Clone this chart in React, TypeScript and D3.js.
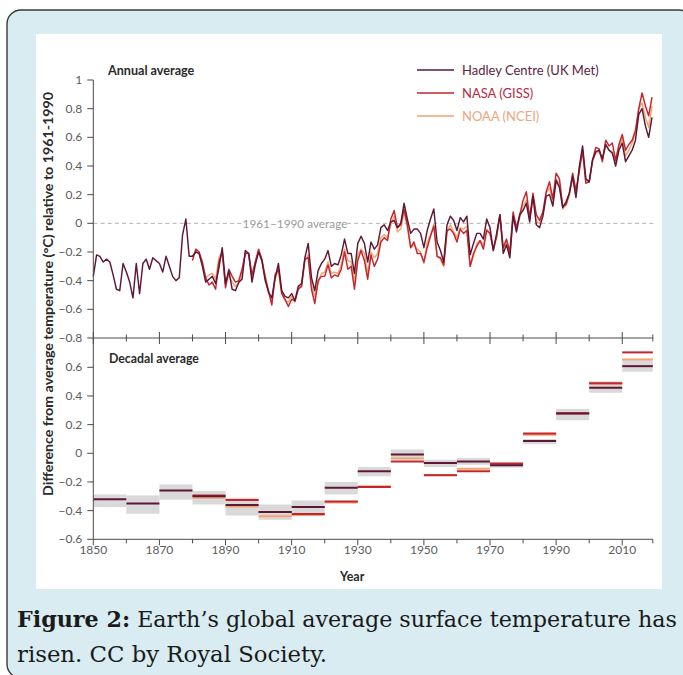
import React from "react";
import * as d3 from "d3";

// Annual global mean surface temperature anomalies (°C, relative to 1961–1990)
const hadleyStart = 1850;
const hadleyAnnual = [
  -0.37, -0.22, -0.23, -0.27, -0.25, -0.27, -0.36, -0.46, -0.47, -0.28,
  -0.34, -0.41, -0.52, -0.28, -0.49, -0.28, -0.25, -0.32, -0.24, -0.26,
  -0.28, -0.34, -0.23, -0.30, -0.37, -0.40, -0.38, -0.08, 0.03, -0.23,
  -0.23, -0.20, -0.21, -0.30, -0.41, -0.39, -0.37, -0.42, -0.31, -0.17,
  -0.42, -0.33, -0.46, -0.47, -0.41, -0.39, -0.19, -0.21, -0.41, -0.29,
  -0.20, -0.26, -0.40, -0.48, -0.52, -0.38, -0.28, -0.47, -0.51, -0.52,
  -0.49, -0.54, -0.44, -0.42, -0.24, -0.14, -0.38, -0.47, -0.33, -0.28,
  -0.25, -0.19, -0.30, -0.28, -0.29, -0.22, -0.11, -0.21, -0.21, -0.35,
  -0.14, -0.09, -0.14, -0.27, -0.13, -0.18, -0.15, -0.03, -0.01, -0.05,
  0.01, 0.02, -0.03, 0.0, 0.14, 0.03, -0.07, -0.04, -0.04, -0.07,
  -0.17, -0.05, 0.03, 0.1, -0.13, -0.19, -0.27, -0.01, 0.05, 0.02,
  -0.05, 0.04, 0.01, 0.05, -0.22, -0.14, -0.07, -0.07, -0.11, 0.03,
  -0.03, -0.19, -0.07, 0.06, -0.21, -0.15, -0.24, 0.05, -0.06, 0.06,
  0.09, 0.14, 0.01, 0.19, -0.01, -0.03, 0.05, 0.19, 0.2, 0.12,
  0.3, 0.25, 0.11, 0.15, 0.21, 0.33, 0.18, 0.39, 0.54, 0.31,
  0.29, 0.44, 0.5, 0.51, 0.45, 0.55, 0.51, 0.49, 0.4, 0.51,
  0.56, 0.43, 0.47, 0.51, 0.58, 0.76, 0.8, 0.68, 0.6, 0.74,
];

const nasaStart = 1880;
const nasaAnnual = [
  -0.26, -0.18, -0.2, -0.27, -0.38, -0.43, -0.41, -0.46, -0.27, -0.2,
  -0.45, -0.32, -0.37, -0.41, -0.4, -0.32, -0.21, -0.21, -0.36, -0.27,
  -0.18, -0.25, -0.38, -0.47, -0.57, -0.36, -0.32, -0.49, -0.53, -0.58,
  -0.53, -0.54, -0.46, -0.44, -0.25, -0.24, -0.46, -0.56, -0.4, -0.37,
  -0.37, -0.29, -0.38, -0.36, -0.37, -0.32, -0.2, -0.32, -0.3, -0.46,
  -0.26, -0.19, -0.26, -0.39, -0.22, -0.3, -0.25, -0.13, -0.1, -0.12,
  0.03, 0.09, -0.03, -0.01, 0.1, -0.01, -0.17, -0.13, -0.21, -0.21,
  -0.27, -0.17, -0.09, -0.02, -0.23, -0.24, -0.29, -0.05, -0.04, -0.07,
  -0.13, -0.04, -0.07, -0.05, -0.3, -0.21, -0.16, -0.12, -0.18, -0.05,
  -0.07, -0.18, -0.09, 0.06, -0.17, -0.11, -0.2, 0.08, -0.03, 0.06,
  0.16, 0.22, 0.04, 0.21, 0.06, 0.02, 0.08, 0.22, 0.29, 0.17,
  0.35, 0.31, 0.12, 0.13, 0.21, 0.35, 0.23, 0.36, 0.51, 0.28,
  0.29, 0.44, 0.53, 0.52, 0.43, 0.58, 0.54, 0.56, 0.44, 0.55,
  0.62, 0.51, 0.55, 0.58, 0.65, 0.8, 0.91, 0.82, 0.75, 0.88,
];

const noaaStart = 1880;
const noaaAnnual = [
  -0.23, -0.2, -0.21, -0.29, -0.38, -0.36, -0.35, -0.39, -0.24, -0.2,
  -0.43, -0.36, -0.41, -0.44, -0.42, -0.35, -0.2, -0.21, -0.38, -0.27,
  -0.19, -0.27, -0.36, -0.48, -0.56, -0.39, -0.32, -0.49, -0.54, -0.55,
  -0.51, -0.55, -0.45, -0.44, -0.26, -0.22, -0.43, -0.51, -0.42, -0.35,
  -0.34, -0.27, -0.35, -0.34, -0.35, -0.29, -0.18, -0.26, -0.27, -0.41,
  -0.22, -0.18, -0.21, -0.35, -0.2, -0.24, -0.21, -0.1, -0.08, -0.1,
  -0.01, 0.05, -0.06, -0.04, 0.08, -0.03, -0.17, -0.15, -0.18, -0.2,
  -0.28, -0.13, -0.08, -0.01, -0.23, -0.25, -0.3, -0.06, -0.01, -0.06,
  -0.1, -0.03, -0.04, -0.02, -0.3, -0.23, -0.14, -0.12, -0.15, -0.04,
  -0.07, -0.19, -0.1, 0.05, -0.18, -0.13, -0.22, 0.06, -0.05, 0.04,
  0.12, 0.16, 0.02, 0.19, 0.01, 0.0, 0.07, 0.21, 0.25, 0.14,
  0.31, 0.27, 0.1, 0.13, 0.19, 0.32, 0.19, 0.39, 0.51, 0.28,
  0.29, 0.43, 0.49, 0.5, 0.45, 0.55, 0.51, 0.5, 0.43, 0.53,
  0.59, 0.47, 0.51, 0.56, 0.63, 0.8, 0.84, 0.74, 0.67, 0.82,
];

// Decadal means (°C) and the Hadley uncertainty range for each decade
const decades = [1850, 1860, 1870, 1880, 1890, 1900, 1910, 1920, 1930, 1940, 1950, 1960, 1970, 1980, 1990, 2000, 2010];
const hadleyDecadal = [-0.32, -0.35, -0.26, -0.3, -0.36, -0.41, -0.375, -0.24, -0.126, -0.008, -0.068, -0.058, -0.084, 0.085, 0.277, 0.457, 0.608];
const hadleyLow = [-0.375, -0.422, -0.324, -0.357, -0.434, -0.464, -0.438, -0.287, -0.161, -0.033, -0.096, -0.08, -0.1, 0.063, 0.231, 0.422, 0.569];
const hadleyHigh = [-0.287, -0.294, -0.217, -0.263, -0.31, -0.357, -0.329, -0.2, -0.096, 0.027, -0.045, -0.032, -0.065, 0.1, 0.31, 0.503, 0.655];
const nasaDecades = [1880, 1890, 1900, 1910, 1920, 1930, 1940, 1950, 1960, 1970, 1980, 1990, 2000, 2010];
const nasaDecadal = [-0.295, -0.326, -0.41, -0.424, -0.336, -0.235, -0.058, -0.154, -0.125, -0.072, 0.138, 0.28, 0.488, 0.704];
const noaaDecadal = [-0.31, -0.371, -0.44, -0.43, -0.343, -0.23, -0.037, -0.152, -0.107, -0.08, 0.13, 0.279, 0.486, 0.655];

const topTicks = [1, 0.8, 0.6, 0.4, 0.2, 0, -0.2, -0.4, -0.6, -0.8];
const bottomTicks = [0.6, 0.4, 0.2, 0, -0.2, -0.4, -0.6];
const yearLabels = [1850, 1870, 1890, 1910, 1930, 1950, 1970, 1990, 2010];
const yearMinor = [1860, 1880, 1900, 1920, 1940, 1960, 1980, 2000];
const lastYear = 2019.25;

const series = [
  { name: "NOAA (NCEI)", color: "#f2a56f", text: "#eda77c", start: noaaStart, values: noaaAnnual },
  { name: "NASA (GISS)", color: "#c4252f", text: "#b92a3c", start: nasaStart, values: nasaAnnual },
  { name: "Hadley Centre (UK Met)", color: "#5e1736", text: "#5a2444", start: hadleyStart, values: hadleyAnnual },
];
const legendOrder = [2, 1, 0];

const SANS = "Lato, 'Open Sans', sans-serif";
const SERIF = "'DejaVu Serif Condensed', 'DejaVu Serif', serif";

export default function App() {
  const x = d3.scaleLinear().domain([1850, 2020]).range([93.3, 655.3]);
  const yTop = d3.scaleLinear().domain([-0.8, 1]).range([338, 80]);
  const yBot = d3.scaleLinear().domain([-0.6, 0.6]).range([539.3, 367.3]);

  const line = d3
    .line<[number, number]>()
    .x((d) => x(d[0]))
    .y((d) => yTop(d[1]));

  const x0 = x(1850);
  const x1 = x(lastYear);
  const decEnd = (d: number) => Math.min(d + 10, lastYear);

  const labelLeft = 243;
  const labelRight = 347;

  return (
    <svg
      width={683}
      height={675}
      viewBox="0 0 683 675"
      style={{ position: "absolute", left: 0, top: 0, display: "block" }}
    >
      <rect x={0} y={0} width={683} height={675} fill="#ffffff" />
      <rect x={7} y={10} width={686} height={668} rx={14} fill="#d8ecf2" stroke="#3a3a3a" strokeWidth={1.4} />
      <rect x={36} y={34} width={626} height={555} fill="#ffffff" />

      {/* zero reference line with its label */}
      <line x1={x0} x2={labelLeft} y1={yTop(0)} y2={yTop(0)} stroke="#b3b3b3" strokeWidth={1} strokeDasharray="4 3.2" />
      <line x1={labelRight} x2={x(2020)} y1={yTop(0)} y2={yTop(0)} stroke="#b3b3b3" strokeWidth={1} strokeDasharray="4 3.2" />
      <text x={(labelLeft + labelRight) / 2} y={yTop(0) + 4.5} textAnchor="middle" fontFamily={SANS} fontSize={11.8} fill="#9a9a9a">
        1961–1990 average
      </text>

      {/* annual series */}
      {series.map((s) => (
        <path
          key={s.name}
          d={line(s.values.map((v, i) => [s.start + i, v] as [number, number])) || ""}
          fill="none"
          stroke={s.color}
          strokeWidth={1.45}
          strokeLinejoin="round"
        />
      ))}

      {/* decadal uncertainty boxes */}
      {decades.map((d, i) => (
        <rect
          key={"box" + d}
          x={x(d)}
          width={x(decEnd(d)) - x(d)}
          y={yBot(hadleyHigh[i])}
          height={yBot(hadleyLow[i]) - yBot(hadleyHigh[i])}
          fill="#d9d9d9"
        />
      ))}
      {nasaDecades.map((d, i) => (
        <line key={"noaa" + d} x1={x(d)} x2={x(decEnd(d))} y1={yBot(noaaDecadal[i])} y2={yBot(noaaDecadal[i])} stroke="#f2a56f" strokeWidth={2} />
      ))}
      {nasaDecades.map((d, i) => (
        <line key={"nasa" + d} x1={x(d)} x2={x(decEnd(d))} y1={yBot(nasaDecadal[i])} y2={yBot(nasaDecadal[i])} stroke="#c4252f" strokeWidth={2} />
      ))}
      {decades.map((d, i) => (
        <line key={"had" + d} x1={x(d)} x2={x(decEnd(d))} y1={yBot(hadleyDecadal[i])} y2={yBot(hadleyDecadal[i])} stroke="#5e1736" strokeWidth={2} />
      ))}

      {/* axes */}
      <g stroke="#4a4a4a" strokeWidth={1}>
        <line x1={x0} x2={x0} y1={yTop(1)} y2={yBot(-0.6)} />
        <line x1={x0} x2={x1} y1={yTop(-0.8)} y2={yTop(-0.8)} />
        <line x1={x0} x2={x1} y1={yBot(-0.6)} y2={yBot(-0.6)} />
        {topTicks.map((t) => (
          <line key={"tt" + t} x1={x0 - 6} x2={x0} y1={yTop(t)} y2={yTop(t)} />
        ))}
        {bottomTicks.map((t) => (
          <line key={"bt" + t} x1={x0 - 6} x2={x0} y1={yBot(t)} y2={yBot(t)} />
        ))}
        {yearLabels.map((t) => (
          <g key={"yl" + t}>
            <line x1={x(t)} x2={x(t)} y1={yTop(-0.8) - 6} y2={yTop(-0.8) + 6} />
            <line x1={x(t)} x2={x(t)} y1={yBot(-0.6)} y2={yBot(-0.6) + 6} />
          </g>
        ))}
        {[...yearMinor, lastYear].map((t) => (
          <g key={"ym" + t}>
            <line x1={x(t)} x2={x(t)} y1={yTop(-0.8) - 3.5} y2={yTop(-0.8) + 3.5} />
            <line x1={x(t)} x2={x(t)} y1={yBot(-0.6)} y2={yBot(-0.6) + 4} />
          </g>
        ))}
      </g>

      <g fontFamily={SANS} fontSize={12} fill="#5c5c5c">
        {topTicks.map((t) => (
          <text key={"tl" + t} x={x0 - 11} y={yTop(t) + 4} textAnchor="end">
            {t === 0 ? "0" : d3.format("")(t)}
          </text>
        ))}
        {bottomTicks.map((t) => (
          <text key={"bl" + t} x={x0 - 11} y={yBot(t) + 4} textAnchor="end">
            {t === 0 ? "0" : d3.format("")(t)}
          </text>
        ))}
        {yearLabels.map((t) => (
          <text key={"xl" + t} x={x(t)} y={yBot(-0.6) + 15} textAnchor="middle">
            {t}
          </text>
        ))}
      </g>

      <text x={340} y={581} fontFamily={SANS} fontSize={12.5} fontWeight="bold" fill="#2a2a2a">
        Year
      </text>
      <text
        transform="translate(52.5,294) rotate(-90)"
        textAnchor="middle"
        fontFamily={SANS}
        fontSize={13}
        fontWeight="bold"
        fill="#2a2a2a"
        textLength={404}
        lengthAdjust="spacingAndGlyphs"
      >
        Difference from average temperature (°C) relative to 1961-1990
      </text>

      <text x={108} y={75} fontFamily={SANS} fontSize={12.6} fontWeight="bold" fill="#2a2a2a">
        Annual average
      </text>
      <text x={109} y={362.5} fontFamily={SANS} fontSize={12.3} fontWeight="bold" fill="#2a2a2a">
        Decadal average
      </text>

      {/* legend */}
      {legendOrder.map((si, row) => {
        const s = series[si];
        const ly = 70 + row * 23;
        return (
          <g key={"lg" + s.name}>
            <line x1={417} x2={454} y1={ly} y2={ly} stroke={s.color} strokeWidth={1.6} />
            <text x={462} y={ly + 5} fontFamily={SANS} fontSize={13} fill={s.text}>
              {s.name}
            </text>
          </g>
        );
      })}

      {/* caption */}
      <g fontFamily={SERIF} fontSize={23} fill="#1a1a1a">
        <text x={17} y={627} textLength={660} lengthAdjust="spacingAndGlyphs">
          <tspan fontWeight="bold">Figure 2:</tspan> Earth’s global average surface temperature has
        </text>
        <text x={17} y={662} textLength={310} lengthAdjust="spacingAndGlyphs">
          risen. CC by Royal Society.
        </text>
      </g>
    </svg>
  );
}
